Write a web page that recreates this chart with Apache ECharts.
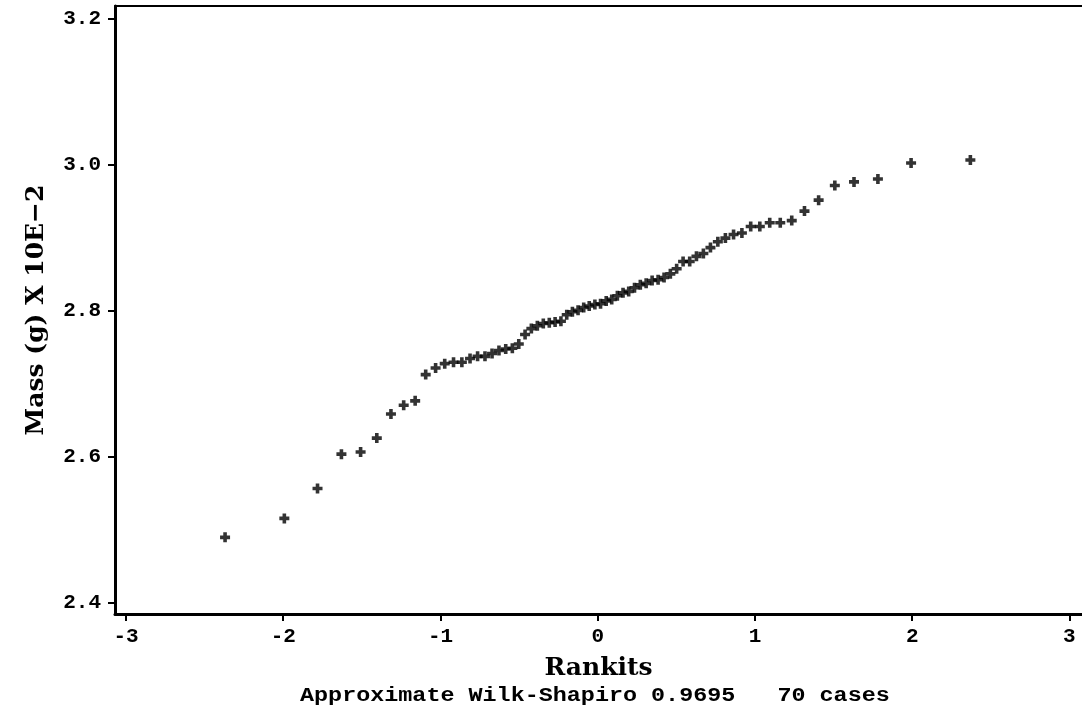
<!DOCTYPE html>
<html>
<head>
<meta charset="utf-8">
<script src="https://cdn.jsdelivr.net/npm/echarts@6/dist/echarts.min.js"></script>
<style>
  html, body { margin: 0; padding: 0; background: #fff; }
  #chart { width: 1082px; height: 710px; }
</style>
</head>
<body>
<div id="chart"></div>
<script>
// rankits (x) and mass (y), sorted
var rankits = [
    -2.370, -1.993, -1.782, -1.630, -1.508, -1.405, -1.315, -1.234, -1.161, -1.094,
    -1.031, -0.973, -0.917, -0.864, -0.812, -0.764, -0.717, -0.672, -0.628, -0.585,
    -0.543, -0.502, -0.462, -0.422, -0.384, -0.346, -0.308, -0.271, -0.234, -0.197,
    -0.161, -0.125, -0.089, -0.054, -0.018, 0.018, 0.054, 0.089, 0.125, 0.161,
    0.197, 0.234, 0.271, 0.308, 0.346, 0.384, 0.422, 0.462, 0.502, 0.543,
    0.585, 0.628, 0.672, 0.717, 0.764, 0.812, 0.864, 0.917, 0.973, 1.031,
    1.094, 1.161, 1.234, 1.315, 1.405, 1.508, 1.630, 1.782, 1.993, 2.370
];
var mass = [
    2.490, 2.516, 2.557, 2.604, 2.607, 2.626, 2.659, 2.671, 2.677, 2.713,
    2.722, 2.728, 2.730, 2.730, 2.735, 2.738, 2.738, 2.742, 2.746, 2.748,
    2.749, 2.755, 2.768, 2.776, 2.780, 2.783, 2.784, 2.785, 2.786, 2.795,
    2.799, 2.801, 2.805, 2.807, 2.809, 2.810, 2.814, 2.816, 2.821, 2.825,
    2.827, 2.832, 2.836, 2.838, 2.842, 2.843, 2.846, 2.851, 2.858, 2.868,
    2.868, 2.875, 2.879, 2.887, 2.895, 2.900, 2.905, 2.907, 2.916, 2.916,
    2.921, 2.921, 2.924, 2.937, 2.952, 2.972, 2.977, 2.981, 3.003, 3.007
];
var xTicks = [-3, -2, -1, 0, 1, 2, 3];
var yTicks = [2.4, 2.6, 2.8, 3.0, 3.2];
var footnote = "Approximate Wilk-Shapiro 0.9695   70 cases";

var points = [];
for (var i = 0; i < rankits.length; i++) {
    points.push([rankits[i], mass[i]]);
}

var chart = echarts.init(document.getElementById('chart'));
var labelFont = {
    fontFamily: 'Liberation Mono',
    fontWeight: 'bold',
    fontSize: 21,
    color: '#000'
};
var nameFont = {
    fontFamily: 'DejaVu Serif',
    fontWeight: 'bold',
    fontSize: 25,
    color: '#000'
};

chart.setOption({
    animation: false,
    backgroundColor: '#fff',
    grid: { left: 115, top: 6, right: 0, bottom: 96 },
    xAxis: [{
        type: 'value',
        min: -3.07,
        max: 3.08,
        name: 'Rankits',
        nameLocation: 'middle',
        nameGap: 42,
        nameTextStyle: nameFont,
        axisLine: { onZero: false, lineStyle: { color: '#000', width: 3 } },
        axisTick: { show: true, customValues: xTicks, length: 7, lineStyle: { color: '#000', width: 2 } },
        axisLabel: Object.assign({ customValues: xTicks, margin: 12 }, labelFont),
        splitLine: { show: false }
    }, {
        // top frame line only
        type: 'value',
        position: 'top',
        min: -3.07,
        max: 3.08,
        axisLine: { onZero: false, lineStyle: { color: '#000', width: 2 } },
        axisTick: { show: false },
        axisLabel: { show: false },
        splitLine: { show: false }
    }],
    yAxis: {
        type: 'value',
        min: 2.385,
        max: 3.218,
        name: 'Mass (g) X 10E\u22122',
        nameLocation: 'middle',
        nameGap: 66,
        nameTextStyle: nameFont,
        axisLine: { onZero: false, lineStyle: { color: '#000', width: 3 } },
        axisTick: { show: true, customValues: yTicks, length: 7, lineStyle: { color: '#000', width: 2 } },
        axisLabel: Object.assign({
            customValues: yTicks,
            margin: 14,
            formatter: function (v) { return v.toFixed(1); }
        }, labelFont),
        splitLine: { show: false }
    },
    graphic: [{
        type: 'text',
        x: 300,
        y: 696,
        scaleX: 1.17,
        style: {
            text: footnote,
            fontFamily: 'Liberation Mono',
            fontWeight: 'bold',
            fontSize: 20,
            fill: '#000',
            verticalAlign: 'middle'
        }
    }],
    series: [{
        type: 'scatter',
        symbol: 'path://M3.2,0H6.8V3.2H10V6.8H6.8V10H3.2V6.8H0V3.2H3.2Z',
        symbolSize: 10,
        itemStyle: { color: '#000' },
        data: points
    }]
});
</script>
</body>
</html>
